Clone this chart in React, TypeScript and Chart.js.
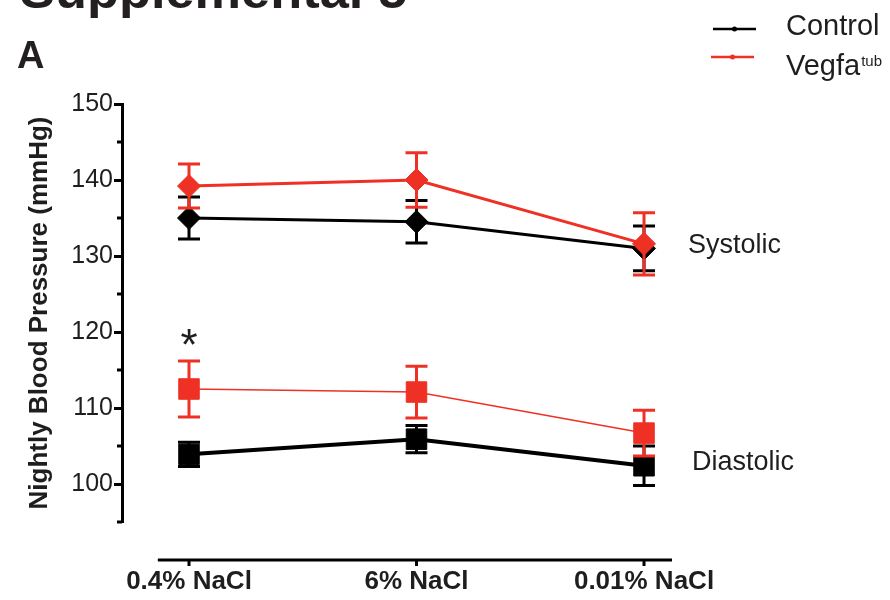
import React, { useEffect, useRef } from 'react';
import { Chart, registerables } from 'chart.js';

Chart.register(...registerables);

const categories = ['0.4% NaCl', '6% NaCl', '0.01% NaCl'];
const seriesNames = ['Control', 'Vegfa'];
const controlSystolic = [135.0, 134.5, 131.0];
const controlSystolicErr = [2.75, 2.8, 2.95];
const vegfaSystolic = [139.2, 140.0, 131.6];
const vegfaSystolicErr = [2.9, 3.6, 4.1];
const controlDiastolic = [103.9, 105.9, 102.4];
const controlDiastolicErr = [1.6, 1.8, 2.6];
const vegfaDiastolic = [112.5, 112.1, 106.7];
const vegfaDiastolicErr = [3.7, 3.4, 3.0];
const yMin = 95;
const yMax = 150;
const yStep = 5;
const groupLabels = ['Systolic', 'Diastolic'];
const significance = { index: 0, value: 119.6, mark: '*' };

const RED = '#EE3124';
const BLACK = '#000000';
const TEXT = '#1e1e1e';
const FONT = "'Liberation Sans', Arial, Helvetica, sans-serif";

const errors = [controlSystolicErr, controlDiastolicErr, vegfaSystolicErr, vegfaDiastolicErr];

const toPoints = (vals: number[]) => vals.map((y, i) => ({ x: i, y }));

const decorPlugin = {
  id: 'decor',
  afterDatasetDraw(chart: any, args: any) {
    const { ctx, scales } = chart;
    const ds = chart.data.datasets[args.index];
    const errs = errors[args.index];
    if (!errs) return;
    ctx.save();
    ctx.strokeStyle = ds.borderColor;
    ctx.lineWidth = 3;
    ctx.lineCap = 'butt';
    const half = 11;
    ds.data.forEach((p: any, i: number) => {
      const x = scales.x.getPixelForValue(p.x);
      const yt = scales.y.getPixelForValue(p.y + errs[i]);
      const yb = scales.y.getPixelForValue(p.y - errs[i]);
      ctx.beginPath();
      ctx.moveTo(x, yt);
      ctx.lineTo(x, yb);
      ctx.moveTo(x - half, yt);
      ctx.lineTo(x + half, yt);
      ctx.moveTo(x - half, yb);
      ctx.lineTo(x + half, yb);
      ctx.stroke();
    });
    ctx.restore();
  },
  afterDraw(chart: any) {
    const { ctx, scales, chartArea } = chart;
    const xs = scales.x;
    const ys = scales.y;
    ctx.save();
    // minor y ticks
    ctx.strokeStyle = BLACK;
    ctx.lineWidth = 3;
    for (let v = yMin; v <= yMax; v += yStep) {
      if (v % 10 !== 0) {
        const py = ys.getPixelForValue(v);
        ctx.beginPath();
        ctx.moveTo(chartArea.left - 5, py);
        ctx.lineTo(chartArea.left, py);
        ctx.stroke();
      }
    }
    // offset x axis
    const axisY = ys.getPixelForValue(yMin) + 38;
    ctx.beginPath();
    ctx.moveTo(xs.getPixelForValue(-0.137), axisY);
    ctx.lineTo(chartArea.right, axisY);
    ctx.stroke();
    categories.forEach((_, i) => {
      const px = xs.getPixelForValue(i);
      ctx.beginPath();
      ctx.moveTo(px, axisY);
      ctx.lineTo(px, axisY + 6);
      ctx.stroke();
    });

    // group labels
    ctx.fillStyle = TEXT;
    ctx.font = `27px ${FONT}`;
    ctx.textAlign = 'left';
    ctx.textBaseline = 'alphabetic';
    const lx = xs.getPixelForValue(categories.length - 1);
    ctx.fillText(groupLabels[0], lx + 44, ys.getPixelForValue(130.4));
    ctx.fillText(groupLabels[1], lx + 48, ys.getPixelForValue(101.9));

    // significance mark
    ctx.font = `44px ${FONT}`;
    ctx.textAlign = 'center';
    ctx.fillText(significance.mark, xs.getPixelForValue(significance.index), ys.getPixelForValue(significance.value) + 25);

    // legend
    const legendItems = [
      { color: BLACK, y: 29, x0: 713, x1: 756 },
      { color: RED, y: 57, x0: 711, x1: 754 },
    ];
    legendItems.forEach((it, i) => {
      ctx.strokeStyle = it.color;
      ctx.lineWidth = 2.5;
      ctx.beginPath();
      ctx.moveTo(it.x0, it.y);
      ctx.lineTo(it.x1, it.y);
      ctx.stroke();
      ctx.fillStyle = it.color;
      ctx.beginPath();
      ctx.arc((it.x0 + it.x1) / 2, it.y, 2.5, 0, Math.PI * 2);
      ctx.fill();
      ctx.fillStyle = TEXT;
      ctx.font = `29px ${FONT}`;
      ctx.textAlign = 'left';
      ctx.textBaseline = 'alphabetic';
      ctx.fillText(seriesNames[i], 786, it.y + (i === 0 ? 6 : 18));
      if (i === 1) {
        const w = ctx.measureText(seriesNames[i]).width;
        ctx.font = `15px ${FONT}`;
        ctx.fillText('tub', 786 + w + 1, 66);
      }
    });

    // panel title (cropped at top) and panel letter
    ctx.fillStyle = '#231f20';
    ctx.font = `bold 50px ${FONT}`;
    const title = 'Supplemental 5';
    const tw = ctx.measureText(title).width;
    ctx.save();
    ctx.translate(20, 8);
    ctx.scale(387 / tw, 1);
    ctx.fillText(title, 0, 0);
    ctx.restore();
    ctx.font = `bold 38px ${FONT}`;
    ctx.fillText('A', 17, 68);
    ctx.restore();
  },
};

export default function App() {
  const ref = useRef<HTMLCanvasElement | null>(null);
  useEffect(() => {
    document.body.style.margin = '0';
    if (!ref.current) return;
    Chart.defaults.font.family = FONT;
    const chart = new Chart(ref.current, {
      type: 'line',
      data: {
        datasets: [
          {
            label: 'Control systolic',
            data: toPoints(controlSystolic),
            borderColor: BLACK,
            backgroundColor: BLACK,
            borderWidth: 3,
            pointStyle: 'rectRot',
            pointRadius: 11.5,
            pointBorderWidth: 1,
            order: 2,
          },
          {
            label: 'Control diastolic',
            data: toPoints(controlDiastolic),
            borderColor: BLACK,
            backgroundColor: BLACK,
            borderWidth: 4,
            pointStyle: 'rect',
            pointRadius: 14.5,
            pointBorderWidth: 1,
            order: 2,
          },
          {
            label: 'Vegfa systolic',
            data: toPoints(vegfaSystolic),
            borderColor: RED,
            backgroundColor: RED,
            borderWidth: 3,
            pointStyle: 'rectRot',
            pointRadius: 11.5,
            pointBorderWidth: 1,
            order: 1,
          },
          {
            label: 'Vegfa diastolic',
            data: toPoints(vegfaDiastolic),
            borderColor: RED,
            backgroundColor: RED,
            borderWidth: 1.6,
            pointStyle: 'rect',
            pointRadius: 14.5,
            pointBorderWidth: 1,
            order: 1,
          },
        ],
      },
      options: {
        animation: false,
        responsive: false,
        devicePixelRatio: 1,
        layout: { padding: { top: 104, right: 218, bottom: 0, left: 0 } },
        plugins: { legend: { display: false }, tooltip: { enabled: false } },
        scales: {
          x: {
            type: 'linear',
            min: -0.2945,
            max: 2.123,
            afterBuildTicks: (s: any) => {
              s.ticks = categories.map((_, i) => ({ value: i }));
            },
            afterFit: (s: any) => {
              s.height = 78;
            },
            grid: { display: false },
            border: { display: false },
            ticks: {
              autoSkip: false,
              maxRotation: 0,
              padding: 36,
              color: TEXT,
              font: { size: 26, weight: 'bold' },
              callback: (v: any) => categories[v] ?? '',
            },
          },
          y: {
            min: yMin,
            max: yMax,
            afterFit: (s: any) => {
              s.width = 122;
            },
            border: { display: true, width: 3, color: BLACK },
            grid: {
              drawOnChartArea: false,
              drawTicks: true,
              tickLength: 8,
              tickWidth: 3,
              tickColor: (c: any) => (c.tick && c.tick.value % 10 === 0 ? BLACK : 'rgba(0,0,0,0)'),
            },
            ticks: {
              stepSize: yStep,
              padding: 1,
              color: TEXT,
              font: { size: 25 },
              callback: (v: any) => (v % 10 === 0 ? String(v) : ''),
            },
            title: {
              display: true,
              text: 'Nightly Blood Pressure (mmHg)',
              color: TEXT,
              font: { size: 26, weight: 'bold' },
              padding: { top: 24, bottom: 0 },
            },
          },
        },
      },
      plugins: [decorPlugin],
    } as any);
    return () => chart.destroy();
  }, []);
  return (
    <div style={{ width: 890, height: 600, background: '#fff' }}>
      <canvas ref={ref} width={890} height={600} style={{ width: 890, height: 600, display: 'block' }} />
    </div>
  );
}
